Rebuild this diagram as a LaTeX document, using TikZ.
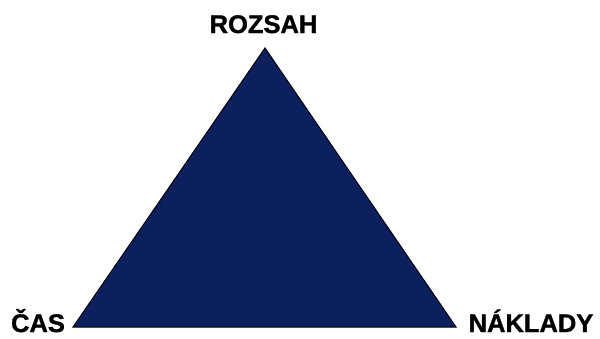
\documentclass[tikz,border=0pt]{standalone}
\usepackage{fontspec}
\setmainfont{Liberation Sans}
\newfontfamily\heavyfont{Liberation Sans Bold}[FakeBold=1.2]
\definecolor{navy}{HTML}{0D205E}
\begin{document}
\begin{tikzpicture}[x=1pt,y=-1pt,
  lbl/.style={font=\fontsize{25.5}{30}\heavyfont, inner sep=0pt, anchor=base}]
\useasboundingbox (0,0) rectangle (600,338);
\coordinate (top) at (265,48);
\coordinate (bl) at (73,327);
\coordinate (br) at (456,327);
\draw[fill=navy, draw=black, line width=1pt, line join=miter] (top) -- (bl) -- (br) -- cycle;
\node[lbl] (rozsah) at (263.5,33) {ROZSAH};
\node[lbl] (cas) at (38,332) {ČAS};
\node[lbl] (naklady) at (531,332) {NÁKLADY};
\end{tikzpicture}
\end{document}
